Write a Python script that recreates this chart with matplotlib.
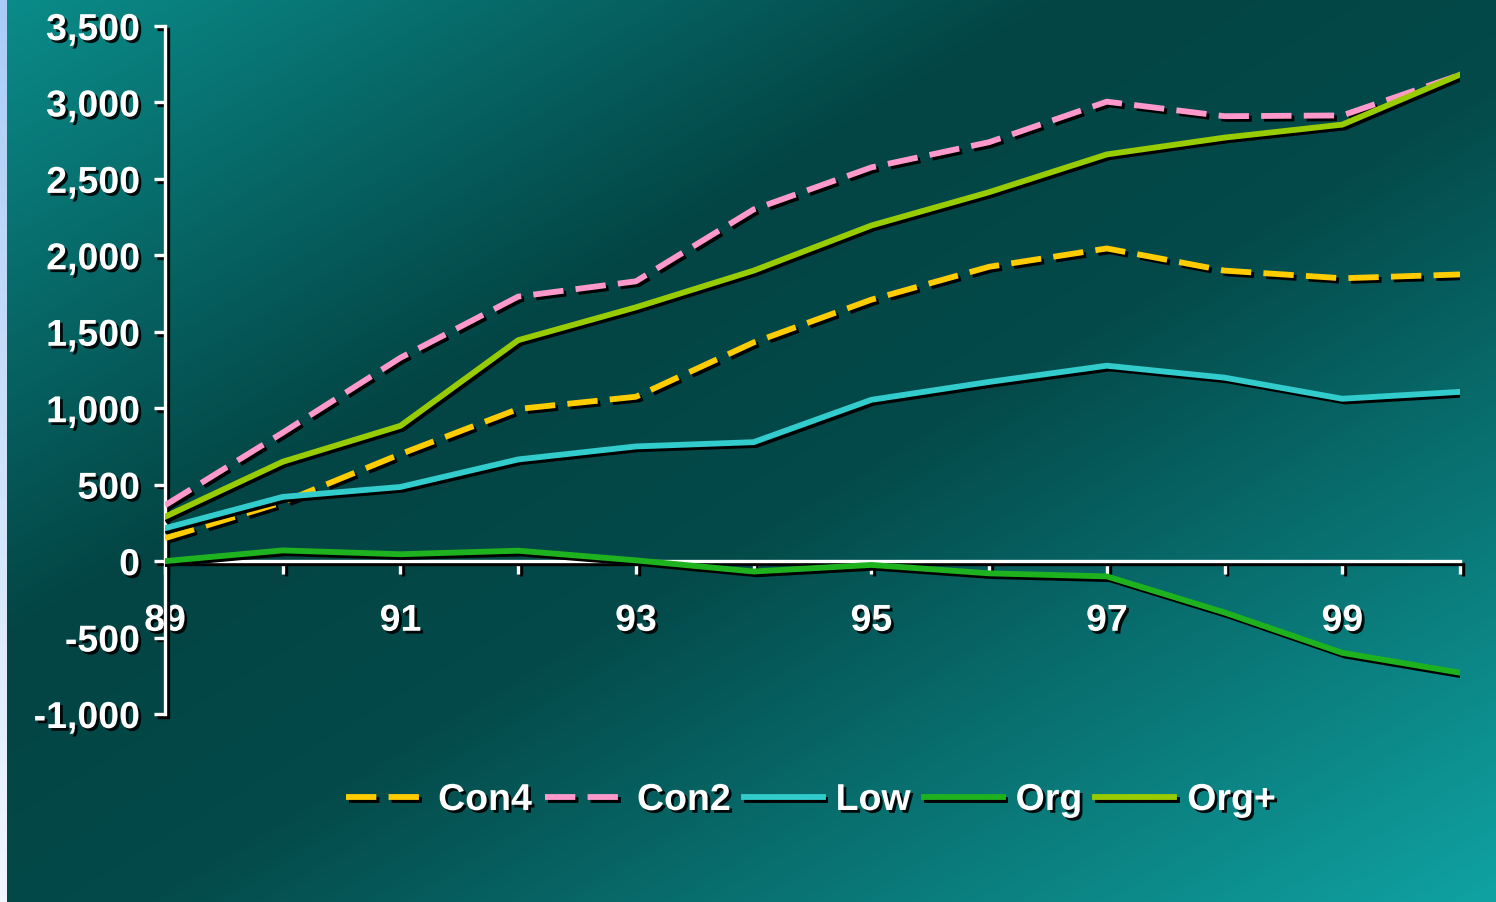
import numpy as np
import matplotlib
matplotlib.use("Agg")
import matplotlib.pyplot as plt
import matplotlib.patheffects as pe
from matplotlib.colors import LinearSegmentedColormap
from matplotlib.ticker import FuncFormatter

# yearly values (thousands), 1989-2000
years = [89, 90, 91, 92, 93, 94, 95, 96, 97, 98, 99, 100]
con4 = [150, 385, 700, 995, 1075, 1430, 1710, 1925, 2045, 1900, 1850, 1875]
con2 = [365, 840, 1330, 1730, 1830, 2300, 2575, 2740, 3005, 2910, 2915, 3180]
low = [215, 420, 485, 665, 750, 778, 1055, 1172, 1278, 1200, 1062, 1107]
org = [0, 70, 45, 68, 5, -68, -25, -80, -100, -336, -600, -730]
org_plus = [290, 650, 885, 1445, 1660, 1900, 2195, 2413, 2660, 2770, 2855, 3182]
xlabels = ["89", "", "91", "", "93", "", "95", "", "97", "", "99", ""]

plt.rcParams["font.family"] = ["Liberation Sans", "DejaVu Sans"]
plt.rcParams["font.weight"] = "bold"

W, H = 1496, 903
fig = plt.figure(figsize=(W / 100, H / 100), dpi=100)

# diagonal teal background with the light strip on the left edge
bg_cmap = LinearSegmentedColormap.from_list(
    "bg", [(0.0, "#0a8c8a"), (0.36, "#034444"), (0.55, "#044a4a"), (1.0, "#10a2a2")])
xx, yy = np.meshgrid(np.linspace(0, 1, W), np.linspace(0, 1, H))
img = bg_cmap((xx + yy) / 2)[:, :, :3]
strip = np.linspace(0, 1, H)[:, None]
top_c = np.array([0.66, 0.80, 0.97])
bot_c = np.array([0.95, 0.97, 1.0])
img[:, :7, :] = (top_c * (1 - strip) + bot_c * strip)[:, None, :]
bg = fig.add_axes([0, 0, 1, 1], zorder=-1)
bg.imshow(img, aspect="auto", extent=(0, 1, 0, 1))
bg.axis("off")

ax = fig.add_axes([165 / W, 188 / H, 1295 / W, 688 / H])
ax.set_facecolor("none")

line_fx = [pe.SimpleLineShadow(offset=(2, -2), shadow_color="black", alpha=1.0), pe.Normal()]
text_fx = [pe.SimplePatchShadow(offset=(2, -2), shadow_rgbFace="black", alpha=0.9), pe.Normal()]

lw = 4.2
dash = (0, (5.2, 2.1))
ax.plot(years, con4, color="#ffcc00", lw=lw, ls=dash, label="Con4", path_effects=line_fx, zorder=4)
ax.plot(years, con2, color="#ff99cc", lw=lw, ls=dash, label="Con2", path_effects=line_fx, zorder=4)
ax.plot(years, low, color="#33cccc", lw=lw, label="Low", path_effects=line_fx, zorder=4)
ax.plot(years, org, color="#1fb21f", lw=lw, label="Org", path_effects=line_fx, zorder=4)
ax.plot(years, org_plus, color="#99cc00", lw=lw, label="Org+", path_effects=line_fx, zorder=5)

ax.set_xlim(89, 100)
ax.set_ylim(-1000, 3500)
ax.set_yticks(range(-1000, 3501, 500))
ax.yaxis.set_major_formatter(FuncFormatter(lambda v, p: f"{int(v):,}"))
ax.set_xticks(years)
ax.set_xticklabels(xlabels)

for s in ["top", "right"]:
    ax.spines[s].set_visible(False)
ax.spines["bottom"].set_position(("data", 0))
for s in ["left", "bottom"]:
    ax.spines[s].set_color("white")
    ax.spines[s].set_linewidth(2.4)
    ax.spines[s].set_path_effects(line_fx)
    ax.spines[s].set_zorder(3)

ax.tick_params(axis="y", direction="out", length=8, width=2.4, color="white",
               labelcolor="white", labelsize=27, pad=10)
ax.tick_params(axis="x", direction="out", length=9, width=2.4, color="white",
               labelcolor="white", labelsize=27, pad=21)
for t in ax.get_xticklabels() + ax.get_yticklabels():
    t.set_path_effects(text_fx)
for tl in ax.xaxis.get_ticklines() + ax.yaxis.get_ticklines():
    tl.set_path_effects(line_fx)

leg = fig.legend(loc="center", bbox_to_anchor=(811 / W, 1 - 801 / H), ncol=5,
                 frameon=False, fontsize=27, handlelength=2.1, handletextpad=0.35,
                 columnspacing=0.35, borderaxespad=0)
for t in leg.get_texts():
    t.set_color("white")
    t.set_path_effects(text_fx)
for h in leg.get_lines():
    h.set_path_effects(line_fx)

fig.savefig("out.png", dpi=100)
